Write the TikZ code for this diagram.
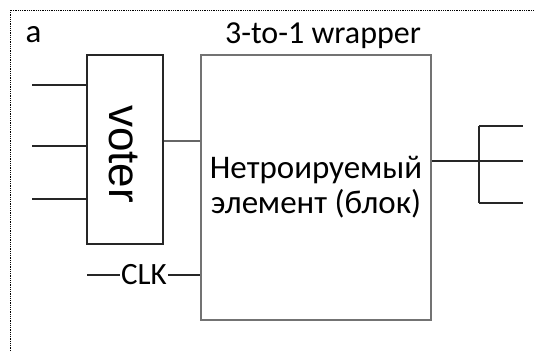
\documentclass[tikz,border=0pt]{standalone}
\usepackage{fontspec}
\setmainfont{Carlito}
\newfontfamily\voterfont{Liberation Sans}
\begin{document}
\begin{tikzpicture}[x=1pt,y=-1pt,
  wire/.style={line width=1.2pt, draw=black!85},
  gwire/.style={line width=1.2pt, draw=black!60},
  voterbox/.style={draw=black!85, line width=1.3pt, minimum width=76pt, minimum height=189pt, inner sep=0pt},
  mainbox/.style={draw=black!55, line width=1.6pt, minimum width=230pt, minimum height=265pt, inner sep=0pt},
  lbl/.style={inner sep=0pt, anchor=base}]
\useasboundingbox (0,0) rectangle (534,351);
\coordinate (bl) at (10,351);
\coordinate (tl) at (10,10);
\coordinate (tr) at (534,10);
\draw[densely dotted, line width=0.8pt] (bl) -- (tl) -- (tr);
\node[voterbox] (voter) at (125,149.5) {};
\node[rotate=-90, inner sep=0pt, font=\voterfont\fontsize{44}{44}\selectfont] (vtext) at (124,154) {voter};
\node[mainbox] (main) at (316,187.5) {};
\node[lbl, font=\fontsize{32}{32}\selectfont] (title) at (323,43) {3-to-1 wrapper};
\node[lbl, font=\fontsize{33}{33}\selectfont] (alabel) at (33.5,42) {a};
\node[lbl, align=center, font=\fontsize{33}{35}\selectfont] (mtext) at (316,213) {Нетроируемый\\элемент (блок)};
% inputs
\coordinate (i1) at (32,85);
\coordinate (i2) at (32,146);
\coordinate (i3) at (32,199);
\draw[wire] (i1) -- (i1 -| voter.west);
\draw[wire] (i2) -- (i2 -| voter.west);
\draw[wire] (i3) -- (i3 -| voter.west);
% voter to main
\coordinate (vo) at (180,141);
\draw[gwire] (vo -| voter.east) -- (vo -| main.west);
% clock
\node[inner sep=1pt, font=\fontsize{31}{31}\selectfont] (clk) at (144,275) {CLK};
\coordinate (ck) at (87,275);
\draw[wire] (ck) -- (clk.west);
\draw[wire] (clk.east) -- (clk.east -| main.west);
% outputs
\coordinate (oj) at (479,161);
\coordinate (ot) at (479,126);
\coordinate (ob) at (479,203);
\coordinate (o1) at (523,126);
\coordinate (o2) at (523,161);
\coordinate (o3) at (523,203);
\draw[wire] (oj -| main.east) -- (oj);
\draw[wire] (ot) -- (ob);
\draw[wire] (ot) -- (o1);
\draw[wire] (oj) -- (o2);
\draw[wire] (ob) -- (o3);
\end{tikzpicture}
\end{document}
